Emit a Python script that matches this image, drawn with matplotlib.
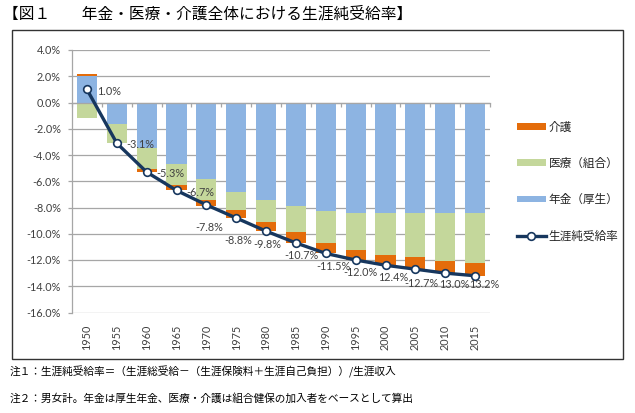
import numpy as np
import matplotlib
matplotlib.use("Agg")
import matplotlib.pyplot as plt
from matplotlib.patches import Rectangle

plt.rcParams['font.family'] = ['Lato', 'Noto Sans CJK JP', 'DejaVu Sans']

years = ['1950', '1955', '1960', '1965', '1970', '1975', '1980', '1985',
         '1990', '1995', '2000', '2005', '2010', '2015']
pension = [2.0, -1.6, -3.5, -4.7, -5.8, -6.8, -7.4, -7.9, -8.25, -8.4, -8.4, -8.4, -8.4, -8.4]
medical = [-1.2, -1.5, -1.6, -1.6, -1.6, -1.4, -1.7, -2.0, -2.45, -2.8, -3.2, -3.4, -3.65, -3.8]
care = [0.2, 0.0, -0.2, -0.35, -0.45, -0.6, -0.7, -0.8, -0.8, -0.8, -0.8, -0.9, -0.95, -1.0]
rate = [1.0, -3.1, -5.3, -6.7, -7.8, -8.8, -9.8, -10.7, -11.5, -12.0, -12.4, -12.7, -13.0, -13.2]
# labels whose minus sign is hidden behind the neighbouring label in the reference
minus_hidden = [10, 12, 13]

series_names = ['年金（厚生）', '医療（組合）', '介護']
line_name = '生涯純受給率'
yticks = [4, 2, 0, -2, -4, -6, -8, -10, -12, -14, -16]

title = '【図１　　年金・医療・介護全体における生涯純受給率】'
note1 = '注１：生涯純受給率＝（生涯総受給－（生涯保険料＋生涯自己負担））/生涯収入'
note2 = '注２：男女計。年金は厚生年金、医療・介護は組合健保の加入者をベースとして算出'

# label placement (pixel offsets dx, dy-down, alignment)
label_style = [(10, 2, 'left'), (10, 1, 'left'), (10, 1, 'left'), (10, 2, 'left'),
               (2.5, 23, 'center'), (2, 23, 'center'), (1, 13, 'center'),
               (6, 13, 'center'), (7.5, 13, 'center'), (5, 13, 'right_c'),
               (-7, 12, 'left'), (6, 14, 'right_c'), (-6, 11.6, 'left'),
               (-6, 8.3, 'left')]

colors = ['#8DB4E2', '#C4D79B', '#E46C0A']
line_color = '#17375E'
grid_color = '#A6A6A6'
text_color = '#404040'

W, H = 635, 413
fig = plt.figure(figsize=(W / 100, H / 100), dpi=100)
ax = fig.add_axes([72 / W, 1 - 312.5 / H, (490 - 72) / W, (312.5 - 50) / H])

x = np.arange(len(years))
pos_base = np.zeros(len(years))
neg_base = np.zeros(len(years))
bars = []
for vals, c, name in zip([pension, medical, care], colors, series_names):
    v = np.array(vals, dtype=float)
    bottom = np.where(v >= 0, pos_base, neg_base)
    b = ax.bar(x, v, width=0.67, bottom=bottom, color=c, label=name, zorder=2)
    bars.append(b)
    pos_base = pos_base + np.where(v >= 0, v, 0)
    neg_base = neg_base + np.where(v < 0, v, 0)

ln, = ax.plot(x, rate, color=line_color, lw=2.4, marker='o', markersize=5.5,
              markerfacecolor='white', markeredgecolor=line_color,
              markeredgewidth=1.2, zorder=5, label=line_name)

for i, (v, (dx, dy, ha)) in enumerate(zip(rate, label_style)):
    txt = f'{v:.1f}%'
    if i in minus_hidden:
        txt = txt.lstrip('-')
    if ha == 'right_c':
        ha = 'center'
    ax.annotate(txt, xy=(x[i], v), xytext=(dx * 0.72, -dy * 0.72),
                textcoords='offset points', ha=ha, va='center',
                fontsize=7.8, color=text_color, zorder=8)

ax.set_xlim(-0.5, len(years) - 0.5)
ax.set_ylim(-16, 4)
ax.set_yticks(yticks)
ax.set_yticklabels([f'{t:.1f}%' for t in yticks])
ax.yaxis.grid(True, color=grid_color, lw=0.9)
ax.set_axisbelow(True)
ax.tick_params(axis='y', length=3, width=0.9, color=grid_color, pad=5,
               labelsize=7.8, labelcolor=text_color)

for s in ['top', 'right']:
    ax.spines[s].set_visible(False)
ax.spines['left'].set_color(grid_color)
ax.spines['left'].set_linewidth(0.9)
ax.spines['bottom'].set_position(('data', 0))
ax.spines['bottom'].set_color(grid_color)
ax.spines['bottom'].set_linewidth(0.9)
ax.spines['bottom'].set_zorder(3)
ax.set_xticks(np.arange(-0.5, len(years), 1.0))
ax.tick_params(axis='x', direction='out', length=3, width=0.9, color=grid_color,
               labelbottom=False)

sec = ax.secondary_xaxis('bottom')
sec.set_xticks(x, labels=years)
sec.tick_params(length=0, pad=9, labelrotation=90, labelsize=7.8,
                labelcolor=text_color)
sec.spines['bottom'].set_visible(False)

handles = [bars[2], bars[1], bars[0], ln]
labels = [series_names[2], series_names[1], series_names[0], line_name]
fig.legend(handles, labels, loc='upper left',
           bbox_to_anchor=(506 / W, 1 - 111 / H), frameon=False,
           fontsize=8.4, handlelength=2.5, handleheight=0.48, handletextpad=0.25,
           labelspacing=2.15, labelcolor='#262626')

fig.add_artist(Rectangle((12 / W, 1 - 359 / H), (623 - 12) / W, (359 - 30) / H,
                         transform=fig.transFigure, fill=False,
                         edgecolor='#333333', lw=1.0))

fig.text(3 / W, 1 - 14 / H, title, fontsize=11.3, va='center', ha='left',
         family=['Noto Sans CJK JP', 'DejaVu Sans'], color='black')
fig.text(10 / W, 1 - 372 / H, note1, fontsize=7.7, va='center', ha='left',
         family=['Noto Sans CJK JP', 'DejaVu Sans'], color='black')
fig.text(10 / W, 1 - 398 / H, note2, fontsize=7.7, va='center', ha='left',
         family=['Noto Sans CJK JP', 'DejaVu Sans'], color='black')

fig.savefig('out.png', dpi=100, facecolor='white')
